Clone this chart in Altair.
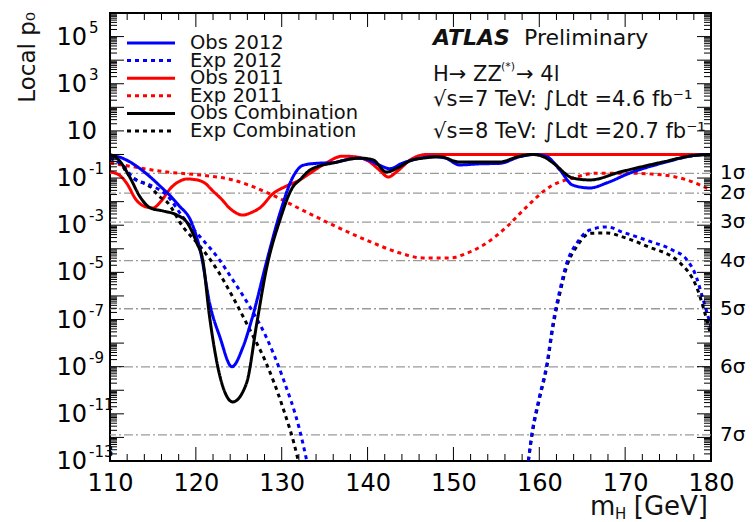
import altair as alt
import pandas as pd

FONT = "DejaVu Sans"

# ---------------- data ----------------
obs2012_m = [110, 111, 112, 113.5, 114.7, 116, 117, 118, 119.5, 120.6, 121.6, 122.8, 124.2, 125.5,
             126.6, 128.2, 129.8, 131.3, 132.5, 134, 136, 138, 139, 140, 141.4, 142.6, 144, 145.5,
             147.5, 149, 150.7, 153, 155.4, 157.7, 159.5, 160.9, 162.4, 163.9, 165.9, 167.9, 170.5,
             174.4, 178.3, 180]
obs2012_p = [0.9, 0.8, 0.56, 0.25, 0.11, 0.04, 0.018, 7e-3, 1.3e-3, 6e-5, 5e-7, 1.8e-8, 1e-9, 7e-9,
             1.3e-7, 2.5e-5, 3.3e-3, 0.11, 0.35, 0.42, 0.45, 0.65, 0.7, 0.6, 0.35, 0.25, 0.42, 0.62,
             0.8, 0.72, 0.36, 0.4, 0.42, 0.8, 1.0, 0.8, 0.22, 0.05, 0.038, 0.063, 0.16,
             0.44, 0.93, 1.0]

exp2012_a_m = [110, 111.5, 112.7, 114.7, 116.6, 118.5, 120.5, 122.5, 124.3, 126.3, 128.2, 130.1, 132.1, 133.5]
exp2012_a_p = [0.7, 0.35, 0.1, 0.05, 0.019, 2.2e-3, 3.2e-4, 4.5e-5, 4.8e-6, 3.4e-7, 1.8e-8, 3.6e-10, 2e-12, 1e-14]
exp2012_b_m = [158.4, 159.2, 160, 160.9, 161.6, 162.4, 163.2, 164.4, 165.9, 167.9, 169.7, 172.5, 175.5,
               177.2, 178.3, 179, 180]
exp2012_b_p = [1e-14, 2e-12, 5e-11, 1.4e-9, 7e-8, 1.8e-6, 2.5e-5, 1.8e-4, 6.3e-4, 8.5e-4, 5.1e-4, 2.3e-4,
               8.9e-5, 3.4e-5, 6.3e-6, 9e-7, 5e-8]

obs2011_m = [110, 111, 112, 113, 114, 115, 116, 117, 118, 119, 120, 121, 122, 123, 124, 125.5, 126.5,
             127.5, 129, 130.5, 132, 133.3, 135, 137.1, 138.5, 140, 141.5, 142.4, 143.5, 145, 146.9, 180]
obs2011_p = [0.18, 0.14, 0.056, 0.0126, 6.3e-3, 5.4e-3, 0.011, 0.035, 0.07, 0.091, 0.085, 0.063, 0.028,
             0.0126, 5e-3, 2.7e-3, 3.5e-3, 5.6e-3, 0.022, 0.045, 0.079, 0.16, 0.4, 0.85, 0.8, 0.55,
             0.2, 0.11, 0.2, 0.6, 1.0, 1.0]

exp2011_m = [110, 112.7, 116.6, 120.5, 124.3, 128.2, 132.1, 136, 139.9, 143.8, 146.4, 149.6, 151.6,
             153.9, 156.2, 158.5, 161.2, 163.9, 166.7, 170.5, 174.4, 177.2, 180]
exp2011_p = [0.44, 0.3, 0.18, 0.135, 0.083, 0.025, 5e-3, 1e-3, 2.3e-4, 6.6e-5, 4.1e-5, 4.1e-5, 6.6e-5,
             1.8e-4, 8.5e-4, 5.9e-3, 0.042, 0.1, 0.16, 0.16, 0.135, 0.083, 0.031]

obscomb_m = [110, 111, 112.3, 113.5, 114.7, 116.2, 117.8, 119, 120.1, 120.8, 121.6, 122.8, 124.3, 125.9,
             127.1, 128.2, 129.8, 131.3, 132.1, 133.3, 134.1, 136, 139.1, 140.6, 142.2, 143.5, 145,
             146.5, 148.4, 150.7, 155.4, 157.5, 159.2, 160.5, 161.6, 163.9, 165.9, 169.4, 174.4, 178, 180]
obscomb_p = [1.0, 0.6, 0.11, 0.016, 5.4e-3, 4e-3, 2.7e-3, 1.26e-3, 1.8e-4, 3.4e-5, 1.3e-7, 4e-10, 3.2e-11,
             2e-10, 7e-8, 1.3e-5, 1.7e-3, 0.042, 0.083, 0.22, 0.3, 0.44, 0.7, 0.6, 0.18, 0.27, 0.55,
             0.7, 0.8, 0.48, 0.48, 0.8, 1.0, 0.8, 0.44, 0.1, 0.083, 0.18, 0.48, 0.9, 1.0]

expcomb_a_m = [110, 111.5, 112, 113.1, 114.7, 115.8, 116.6, 118.5, 120.5, 122.5, 124.3, 126.3, 128.2,
               130.1, 131.8, 132.5]
expcomb_a_p = [0.7, 0.3, 0.16, 0.083, 0.042, 0.016, 0.01, 8.5e-4, 1.26e-4, 1.26e-5, 9e-7, 3.6e-8, 1.4e-9,
               2e-11, 1.6e-13, 1e-14]
expcomb_b_m = [158.4, 159.2, 160, 160.9, 161.6, 162.4, 163.2, 164.4, 165.9, 167.9, 169.7, 172.5, 176.4,
               178.3, 180]
expcomb_b_p = [1e-14, 1.6e-12, 4e-11, 1.1e-9, 5e-8, 1.3e-6, 1.8e-5, 1.3e-4, 4.5e-4, 4.7e-4, 3.2e-4,
               1.3e-4, 2.5e-5, 2.5e-6, 2e-8]

series_names = ["Obs 2012", "Exp 2012", "Obs 2011", "Exp 2011", "Obs Combination", "Exp Combination"]
series_colors = ["#0000ff", "#0000ff", "#ff0000", "#ff0000", "#000000", "#000000"]
series_dash = [[1, 0], [4, 4], [1, 0], [4, 4], [1, 0], [4, 4]]

sigma_labels = ["1σ", "2σ", "3σ", "4σ", "5σ", "6σ", "7σ"]
sigma_p = [0.1587, 0.02275, 1.35e-3, 3.167e-5, 2.867e-7, 9.866e-10, 1.28e-12]

x_tick_labels = [110, 120, 130, 140, 150, 160, 170, 180]
y_label_exps = [5, 3, 1, -1, -3, -5, -7, -9, -11, -13]

# ---------------- tables ----------------
rows = []
def add(name, seg, ms, ps):
    for m, p in zip(ms, ps):
        rows.append({"series": name, "seg": seg, "m": m, "p": p})

add("Obs 2012", "a", obs2012_m, obs2012_p)
add("Exp 2012", "a", exp2012_a_m, exp2012_a_p)
add("Exp 2012", "b", exp2012_b_m, exp2012_b_p)
add("Obs 2011", "a", obs2011_m, obs2011_p)
add("Exp 2011", "a", exp2011_m, exp2011_p)
add("Obs Combination", "a", obscomb_m, obscomb_p)
add("Exp Combination", "a", expcomb_a_m, expcomb_a_p)
add("Exp Combination", "b", expcomb_b_m, expcomb_b_p)
curves = pd.DataFrame(rows)

W, H = 601, 448

xscale = alt.Scale(domain=[110, 180], nice=False, zero=False)
yscale = alt.Scale(type="log", domain=[1e-13, 1e6], nice=False)
X = alt.X("m:Q", scale=xscale,
          axis=alt.Axis(values=x_tick_labels, ticks=False, domain=False, grid=False, title=None,
                        labelFont=FONT, labelFontSize=24, labelColor="black", labelPadding=10,
                        labelFlush=False, labelOverlap=False, format="d"))
Y = alt.Y("p:Q", scale=yscale, axis=None)
color = alt.Color("series:N", scale=alt.Scale(domain=series_names, range=series_colors), legend=None)
dash = alt.StrokeDash("series:N", scale=alt.Scale(domain=series_names, range=series_dash), legend=None)

layers = []

# sigma reference lines
sig_df = pd.DataFrame({"label": sigma_labels, "p": sigma_p})
layers.append(alt.Chart(sig_df).mark_rule(color="#9a9a9a", strokeWidth=1.3, strokeDash=[9, 3, 2, 3])
              .encode(y=Y))

# curves, drawn in order
for name in ["Exp 2011", "Obs 2011", "Exp Combination", "Exp 2012", "Obs 2012", "Obs Combination"]:
    layers.append(
        alt.Chart(curves).transform_filter(alt.datum.series == name)
        .mark_line(clip=True, interpolate="monotone", strokeWidth=3)
        .encode(x=X, y=Y, color=color, strokeDash=dash, detail="seg:N", order="m:Q")
    )

# axis ticks (ROOT style, inward, on all four sides)
xmaj = pd.DataFrame({"m": list(range(110, 181, 10))})
xmin = pd.DataFrame({"m": [v for v in range(110, 181, 2) if v % 10 != 0]})
for df, ln in [(xmaj, 14), (xmin, 7)]:
    layers.append(alt.Chart(df).mark_rule(color="black", strokeWidth=1)
                  .encode(x=X, y=alt.value(H), y2=alt.value(H - ln)))
    layers.append(alt.Chart(df).mark_rule(color="black", strokeWidth=1)
                  .encode(x=X, y=alt.value(0), y2=alt.value(ln)))

ymaj = pd.DataFrame({"p": [10.0 ** e for e in range(-13, 7)]})
ymin = pd.DataFrame({"p": [k * 10.0 ** e for e in range(-13, 6) for k in range(2, 10)]})
for df, ln in [(ymaj, 14), (ymin, 7)]:
    layers.append(alt.Chart(df).mark_rule(color="black", strokeWidth=1, clip=True)
                  .encode(y=Y, x=alt.value(0), x2=alt.value(ln)))
    layers.append(alt.Chart(df).mark_rule(color="black", strokeWidth=1, clip=True)
                  .encode(y=Y, x=alt.value(W), x2=alt.value(W - ln)))

# y tick labels 10^n
ylab = pd.DataFrame({"e": y_label_exps})
ylab["p"] = [10.0 ** e for e in y_label_exps]
ylab["sup"] = [str(e) for e in y_label_exps]
layers.append(alt.Chart(ylab).transform_filter("datum.e != 1")
              .mark_text(text="10", font=FONT, fontSize=24, align="right", baseline="middle", dy=1)
              .encode(y=Y, x=alt.value(-23)))
layers.append(alt.Chart(ylab).transform_filter("datum.e == 1")
              .mark_text(text="10", font=FONT, fontSize=24, align="right", baseline="middle", dy=1)
              .encode(y=Y, x=alt.value(-13)))
layers.append(alt.Chart(ylab).transform_filter("datum.e != 1")
              .mark_text(font=FONT, fontSize=15, align="left", baseline="middle", dy=-9)
              .encode(y=Y, x=alt.value(-21), text="sup:N"))

# sigma labels on the right
layers.append(alt.Chart(sig_df).mark_text(font=FONT, fontSize=20, align="left", baseline="middle")
              .encode(y=Y, x=alt.value(W + 9), text="label:N"))

# legend
leg = pd.DataFrame({"series": series_names, "i": list(range(len(series_names)))})
leg_base = alt.Chart(leg).transform_calculate(ly="30 + datum.i * 17.6")
layers.append(leg_base.mark_rule(strokeWidth=3)
              .encode(y=alt.Y("ly:Q", scale=None), x=alt.value(17), x2=alt.value(65),
                      color=color, strokeDash=dash))
layers.append(leg_base.mark_text(font=FONT, fontSize=19.5, align="left", baseline="middle", color="#111")
              .encode(y=alt.Y("ly:Q", scale=None), x=alt.value(80), text="series:N"))

one = pd.DataFrame({"k": [0]})
def txt(s, x, y, size=21, **kw):
    return alt.Chart(one).mark_text(text=s, font=FONT, fontSize=size, align=kw.pop("align", "left"),
                                    baseline=kw.pop("baseline", "middle"), color="#111", **kw) \
        .encode(x=alt.value(x), y=alt.value(y))

layers += [
    txt("ATLAS", 323, 25, 22, fontStyle="italic", fontWeight="bold"),
    txt("Preliminary", 414, 25, 22),
    txt("H→ ZZ", 323, 62, 21),
    txt("(*)", 391, 54, 11),
    txt("→ 4l", 406, 62, 21),
    txt("√s=7 TeV: ∫Ldt =4.6 fb⁻¹", 323, 87, 21),
    txt("√s=8 TeV: ∫Ldt =20.7 fb⁻¹", 323, 119, 21),
    txt("Local p₀", -82, -1, 23, angle=270, align="right"),
    txt("m", 480, 502, 26, baseline="alphabetic"),
    txt("H", 505, 506, 15, baseline="alphabetic"),
    txt("[GeV]", 598, 502, 26, baseline="alphabetic", align="right"),
]

chart = alt.layer(*layers).properties(
    width=W, height=H, autosize="none",
    padding={"left": 110, "top": 13, "right": 42, "bottom": 61},
    background="white",
).configure_view(stroke="black", strokeWidth=2)

chart.save("out.html", embed_options={"renderer": "svg", "actions": False})
